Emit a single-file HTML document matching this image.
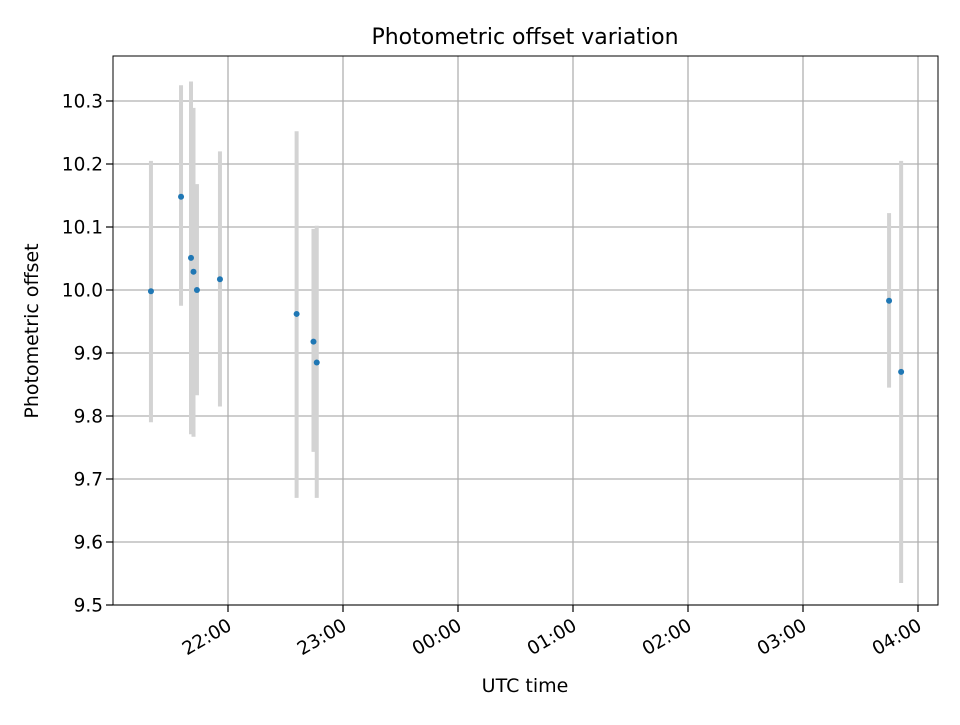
<!DOCTYPE html>
<html><head><meta charset="utf-8"><style>
body{margin:0;background:#fff;font-family:"Liberation Sans","DejaVu Sans",sans-serif}
svg text{font-family:"DejaVu Sans","Liberation Sans",sans-serif;fill:#000}
</style></head><body>
<svg id="chart" width="960" height="720" viewBox="0 0 960 720">
<rect width="960" height="720" fill="#fff"/>
<g id="grid"></g>
<g id="bars"></g>
<g id="pts"></g>
<rect x="113" y="56" width="825" height="549" fill="none" stroke="#000" stroke-width="1"/>
<g id="axes"></g>
<text x="525" y="44" text-anchor="middle" style="font-size:22px">Photometric offset variation</text>
<text x="525" y="692" text-anchor="middle" style="font-size:19px">UTC time</text>
<text transform="translate(38,331) rotate(-90)" text-anchor="middle" style="font-size:19px">Photometric offset</text>
</svg>
<script>
// minutes after 21:00 UTC
const times=[19.8,35.5,40.7,42.0,43.8,55.8,95.8,104.6,106.3,404.9,411.2];
const values=[9.998,10.148,10.051,10.029,10.000,10.017,9.962,9.918,9.885,9.983,9.870];
const errLow=[9.790,9.975,9.771,9.767,9.833,9.815,9.670,9.743,9.670,9.845,9.535];
const errHigh=[10.205,10.325,10.331,10.289,10.168,10.220,10.252,10.097,10.102,10.122,10.205];
const yTicks=[9.5,9.6,9.7,9.8,9.9,10.0,10.1,10.2,10.3];
const xTickMinutes=[60,120,180,240,300,360,420];
const xTickLabels=["22:00","23:00","00:00","01:00","02:00","03:00","04:00"];
const NS="http://www.w3.org/2000/svg";
const L=113,R=938,T=56,B=605;
const xs=m=>113+m*115/60;
const ys=v=>290-(v-10)*630;
function mk(t,a,p){const e=document.createElementNS(NS,t);for(const k in a)e.setAttribute(k,a[k]);p.appendChild(e);return e;}
const g=document.getElementById('grid'),ax=document.getElementById('axes');
yTicks.forEach((v,i)=>{const y=ys(v);
 const l=mk('line',{x1:L,x2:R,y1:y,y2:y,stroke:'#b0b0b0','stroke-width':1.3},g);
 
 
 mk('line',{x1:L-7,x2:L,y1:y,y2:y,stroke:'#000','stroke-width':1.2},ax);
 const t=mk('text',{x:L-10,y:y+6.5,'text-anchor':'end',style:'font-size:18.5px'},ax);t.textContent=v.toFixed(1);
 
 
});
xTickMinutes.forEach((m,i)=>{const x=xs(m);
 const l=mk('line',{x1:x,x2:x,y1:T,y2:B,stroke:'#b0b0b0','stroke-width':1.3},g);
 
 
 mk('line',{x1:x,x2:x,y1:B,y2:B+7,stroke:'#000','stroke-width':1.2},ax);
 const tx=x+5,ty=B+24;
 const t=mk('text',{x:tx,y:ty,'text-anchor':'end',style:'font-size:18.5px',transform:`rotate(-30 ${tx} ${ty})`},ax);t.textContent=xTickLabels[i];
 
 
});
const bg=document.getElementById('bars'),pg=document.getElementById('pts');
times.forEach((m,i)=>{const x=xs(m);
 const b=mk('line',{x1:x,x2:x,y1:ys(errHigh[i]),y2:ys(errLow[i]),stroke:'#d3d3d3','stroke-width':4},bg);
 
 
 const c=mk('circle',{cx:x,cy:ys(values[i]),r:3,fill:'#1f77b4'},pg);
 
 
});
</script>
</body></html>
